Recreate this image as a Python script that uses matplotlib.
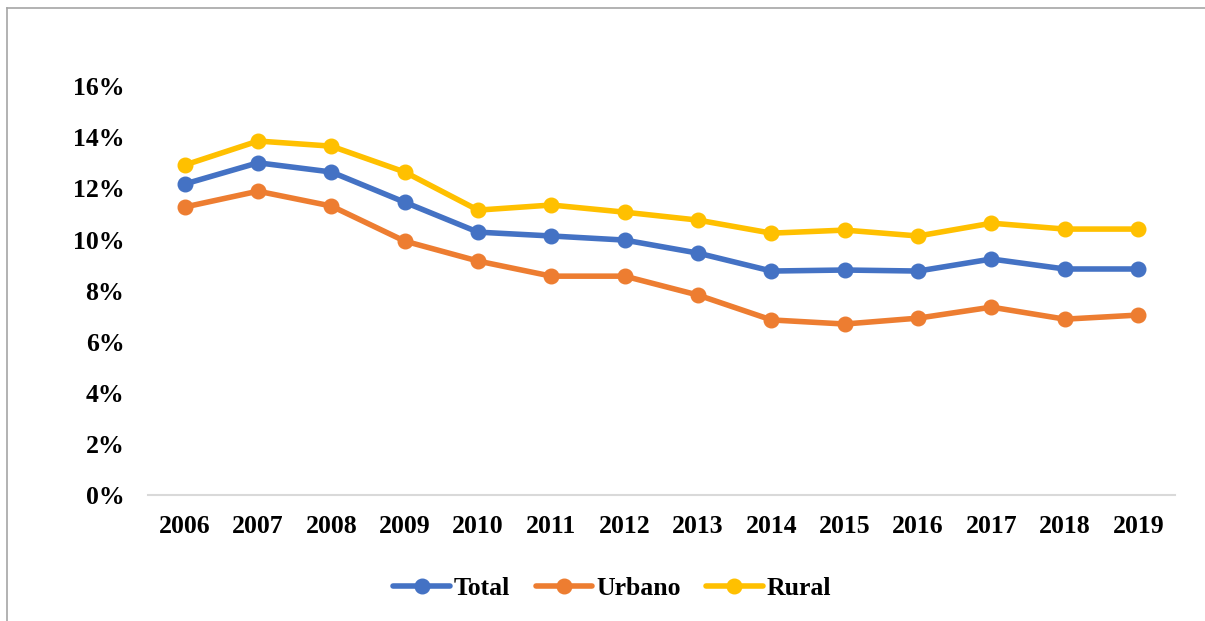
import matplotlib
matplotlib.use('Agg')
import matplotlib.pyplot as plt
from matplotlib.lines import Line2D
from matplotlib.ticker import FuncFormatter

years = ['2006', '2007', '2008', '2009', '2010', '2011', '2012',
         '2013', '2014', '2015', '2016', '2017', '2018', '2019']
total = [12.17, 13.00, 12.64, 11.46, 10.29, 10.14, 9.98,
         9.47, 8.77, 8.81, 8.77, 9.24, 8.85, 8.85]
urbano = [11.27, 11.89, 11.31, 9.94, 9.16, 8.57, 8.57,
          7.83, 6.86, 6.70, 6.93, 7.36, 6.89, 7.05]
rural = [12.91, 13.85, 13.65, 12.64, 11.15, 11.35, 11.07,
         10.76, 10.25, 10.37, 10.14, 10.64, 10.41, 10.41]

plt.rcParams['font.family'] = ['Liberation Serif', 'DejaVu Serif']
plt.rcParams['font.weight'] = 'bold'

fig = plt.figure(figsize=(12.05, 6.21), dpi=100)
ax = fig.add_axes([0.1228, 0.2021, 0.8522, 0.6594])

x = list(range(len(years)))
series = [('Total', total, '#4472C4'),
          ('Urbano', urbano, '#ED7D31'),
          ('Rural', rural, '#FFC000')]
for name, vals, col in series:
    ax.plot(x, vals, color=col, lw=4, marker='o', ms=10.5,
            solid_capstyle='round', label=name)

ax.set_xlim(-0.5, len(years) - 0.5)
ax.set_ylim(0, 16)
ax.set_yticks(range(0, 17, 2))
ax.yaxis.set_major_formatter(FuncFormatter(lambda v, p: '%d%%' % v))
ax.set_xticks(x)
ax.set_xticklabels(years)
ax.tick_params(axis='both', length=0, labelsize=18.5)
ax.tick_params(axis='y', pad=17)
ax.tick_params(axis='x', pad=14)
for lab in ax.get_xticklabels() + ax.get_yticklabels():
    lab.set_fontweight('bold')

for s in ['top', 'right', 'left']:
    ax.spines[s].set_visible(False)
ax.spines['bottom'].set_color('#D9D9D9')
ax.spines['bottom'].set_linewidth(1.5)

leg = fig.legend(loc='center', bbox_to_anchor=(0.508, 0.053), ncol=3,
                 frameon=False, prop={'size': 18.5, 'weight': 'bold'},
                 handlelength=2.2, handletextpad=0.15, columnspacing=1.0)

# outer frame (left and top edges)
fig.add_artist(Line2D([0.0062, 0.0062], [0.0, 0.987], transform=fig.transFigure,
                      color='#A6A6A6', lw=1.2))
fig.add_artist(Line2D([0.0062, 1.0], [0.987, 0.987], transform=fig.transFigure,
                      color='#A6A6A6', lw=1.2))

fig.savefig('out.png', dpi=100)
